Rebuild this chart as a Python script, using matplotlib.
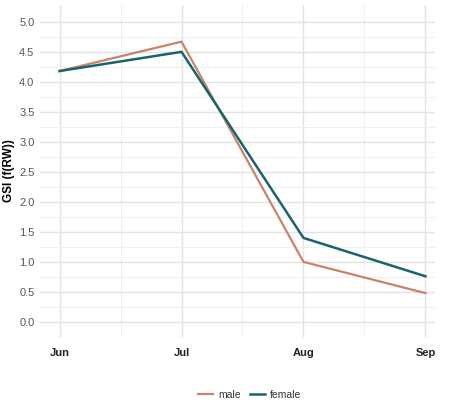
import numpy as np
import matplotlib.pyplot as plt

plt.rcParams['font.family'] = ['Liberation Sans', 'DejaVu Sans']

months = ["Jun", "Jul", "Aug", "Sep"]
male = [4.18, 4.67, 1.00, 0.48]
female = [4.18, 4.50, 1.40, 0.76]
yticks = [0.0, 0.5, 1.0, 1.5, 2.0, 2.5, 3.0, 3.5, 4.0, 4.5, 5.0]

fig = plt.figure(figsize=(4.5, 4.18), dpi=100)
ax = fig.add_axes([0.089, 0.194, 0.878, 0.794])

x = np.arange(len(months))
ax.plot(x, male, color="#C8836A", lw=1.6, label="male")
ax.plot(x, female, color="#15646E", lw=1.8, label="female")

ax.set_xlim(-0.16, 3.08)
ax.set_ylim(-0.25, 5.28)
ax.set_xticks(x)
ax.set_xticklabels(months, fontweight="bold", fontsize=8, color="#222222")
ax.set_xticks([0.5, 1.5, 2.5], minor=True)
ax.set_yticks(yticks)
ax.set_yticklabels([f"{v:.1f}" for v in yticks], fontsize=8, color="#555555")
ax.set_yticks(np.arange(0.25, 5.1, 0.5), minor=True)
ax.grid(which="major", color="#E3E3E3", lw=1.0)
ax.grid(which="minor", color="#EFEFEF", lw=0.7)
ax.set_axisbelow(True)
ax.tick_params(which="both", length=0)
ax.tick_params(axis="x", pad=8)
ax.tick_params(axis="y", pad=4)
for s in ax.spines.values():
    s.set_visible(False)
ax.set_ylabel("GSI (f(RW))", fontweight="bold", fontsize=8.5, labelpad=3)

fig.legend(loc="center", bbox_to_anchor=(0.555, 0.055), ncol=2, frameon=False,
           fontsize=7.5, handlelength=1.5, columnspacing=0.8, handletextpad=0.5,
           labelcolor="#333333")

fig.savefig("out.png", dpi=100)
